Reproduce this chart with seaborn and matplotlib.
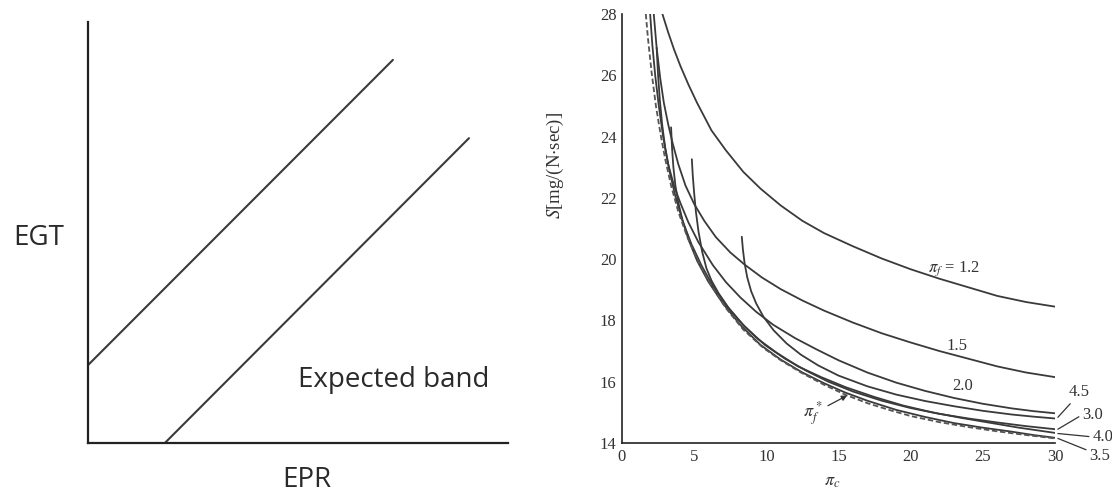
import matplotlib
matplotlib.use("Agg")
import matplotlib.pyplot as plt
import seaborn as sns

# ---------------- data ----------------
# left panel (schematic)
epr_upper = [0.0, 7.26]
egt_upper = [1.85, 9.1]
epr_lower = [1.83, 9.07]
egt_lower = [0.0, 7.24]

# right panel: S [mg/(N.sec)] vs pi_c for fan pressure ratios
pf12_x = [2.8, 3.2, 3.6, 4.05, 4.6, 5.2, 6.2, 7.2, 8.4, 9.6, 11.0, 12.5, 14.0, 16.0, 18.0, 20.0, 22.0, 24.0, 26.0, 28.0, 30.0]
pf12_y = [28.0, 27.4, 26.85, 26.3, 25.7, 25.1, 24.2, 23.55, 22.85, 22.3, 21.75, 21.25, 20.85, 20.42, 20.02, 19.67, 19.36, 19.08, 18.8, 18.6, 18.45]

pf15_x = [2.2, 2.4, 2.65, 2.9, 3.2, 3.5, 3.9, 4.4, 5.0, 5.7, 6.5, 7.5, 8.5, 9.7, 11.0, 12.5, 14.0, 16.0, 18.0, 20.0, 22.0, 24.0, 26.0, 28.0, 30.0]
pf15_y = [28.0, 26.9, 25.9, 25.1, 24.4, 23.8, 23.1, 22.4, 21.8, 21.25, 20.72, 20.22, 19.82, 19.4, 19.02, 18.65, 18.32, 17.93, 17.58, 17.28, 17.0, 16.75, 16.5, 16.3, 16.15]

pf20_x = [1.95, 2.1, 2.3, 2.55, 2.85, 3.2, 3.6, 4.03, 4.6, 5.3, 6.3, 7.2, 8.2, 9.3, 10.5, 12.0, 13.5, 15.0, 17.0, 19.0, 21.0, 23.0, 25.0, 27.0, 28.5, 30.0]
pf20_y = [28.0, 27.0, 26.0, 25.0, 24.0, 23.1, 22.4, 21.85, 21.2, 20.55, 19.8, 19.25, 18.75, 18.28, 17.85, 17.42, 17.05, 16.7, 16.3, 15.97, 15.7, 15.47, 15.28, 15.13, 15.04, 14.97]

pf30_x = [2.4, 2.5, 2.62, 2.78, 3.0, 3.3, 3.7, 4.2, 4.8, 5.5, 6.3, 7.3, 8.5, 9.9, 11.3, 12.8, 14.3, 16.0, 18.0, 20.0, 22.0, 24.0, 26.0, 28.0, 30.0]
pf30_y = [26.9, 26.0, 25.2, 24.4, 23.6, 22.85, 22.05, 21.25, 20.5, 19.8, 19.12, 18.45, 17.8, 17.2, 16.75, 16.35, 16.0, 15.68, 15.38, 15.14, 14.95, 14.8, 14.67, 14.55, 14.45]

pf35_x = [3.4, 3.47, 3.56, 3.7, 3.9, 4.2, 4.6, 5.2, 6.0, 7.0, 8.2, 9.6, 11.0, 12.5, 14.0, 15.5, 17.0, 19.0, 21.0, 23.0, 25.0, 27.0, 28.5, 30.0]
pf35_y = [24.3, 23.6, 23.0, 22.4, 21.85, 21.25, 20.65, 19.95, 19.25, 18.55, 17.85, 17.2, 16.72, 16.3, 15.95, 15.64, 15.38, 15.08, 14.85, 14.65, 14.5, 14.37, 14.26, 14.17]

pf40_x = [4.84, 4.9, 5.0, 5.12, 5.3, 5.55, 5.85, 6.2, 6.7, 7.4, 8.3, 9.4, 10.7, 12.2, 13.8, 15.5, 17.5, 19.5, 21.5, 23.5, 25.5, 27.5, 30.0]
pf40_y = [23.26, 22.75, 22.15, 21.55, 20.9, 20.25, 19.7, 19.3, 18.88, 18.4, 17.9, 17.4, 16.95, 16.5, 16.15, 15.82, 15.5, 15.22, 15.0, 14.82, 14.66, 14.5, 14.33]

pf45_x = [8.3, 8.38, 8.5, 8.68, 8.95, 9.3, 9.8, 10.5, 11.4, 12.4, 13.6, 15.0, 17.0, 19.0, 21.0, 23.0, 25.0, 27.0, 28.5, 30.0]
pf45_y = [20.73, 20.3, 19.85, 19.4, 18.95, 18.55, 18.12, 17.68, 17.25, 16.88, 16.53, 16.2, 15.85, 15.58, 15.37, 15.2, 15.05, 14.93, 14.86, 14.8]

pfopt_x = [1.65, 1.8, 2.05, 2.35, 2.7, 3.0, 3.4, 3.9, 4.5, 5.2, 6.1, 7.2, 8.4, 9.8, 11.0, 12.4, 14.0, 15.5, 17.0, 18.5, 20.0, 22.0, 24.0, 26.0, 28.0, 30.0]
pfopt_y = [28.0, 27.2, 26.1, 25.0, 24.0, 23.25, 22.4, 21.55, 20.75, 20.0, 19.2, 18.4, 17.7, 17.1, 16.7, 16.3, 15.9, 15.57, 15.3, 15.08, 14.88, 14.68, 14.52, 14.38, 14.26, 14.15]

x_ticks = [0, 5, 10, 15, 20, 25, 30]
y_ticks = [14, 16, 18, 20, 22, 24, 26, 28]

# ---------------- style ----------------
sns.set_style("white")
plt.rcParams["font.family"] = ["Liberation Serif", "DejaVu Serif"]
plt.rcParams["mathtext.fontset"] = "stix"

ink = "#3a3a3a"
fig = plt.figure(figsize=(11.12, 4.93), dpi=100)

# ---------------- left panel ----------------
axL = fig.add_axes([88 / 1112, 50 / 493, 420 / 1112, 421 / 493])
sns.lineplot(x=epr_upper, y=egt_upper, ax=axL, color=ink, lw=1.5)
sns.lineplot(x=epr_lower, y=egt_lower, ax=axL, color=ink, lw=1.5)
axL.set_xlim(0, 10)
axL.set_ylim(0, 10)
axL.set_xticks([])
axL.set_yticks([])
for s in ["top", "right"]:
    axL.spines[s].set_visible(False)
for s in ["left", "bottom"]:
    axL.spines[s].set_color("#222222")
    axL.spines[s].set_linewidth(1.6)
sans = ["Open Sans", "DejaVu Sans"]
axL.set_ylabel("EGT", rotation=0, fontsize=20, family=sans, color="#2a2a2a")
axL.yaxis.set_label_coords(-0.118, 0.487)
axL.yaxis.label.set_va("center")
axL.set_xlabel("EPR", fontsize=20, family=sans, color="#2a2a2a")
axL.xaxis.set_label_coords(0.521, -0.088)
axL.xaxis.label.set_va("center")
axL.text(5.0, 1.5, "Expected band", fontsize=20, family=sans, color="#2a2a2a",
         ha="left", va="center")

# ---------------- right panel ----------------
axR = fig.add_axes([622 / 1112, 50 / 493, 433 / 1112, 429 / 493])
curves = [
    (pf12_x, pf12_y), (pf15_x, pf15_y), (pf20_x, pf20_y), (pf30_x, pf30_y),
    (pf35_x, pf35_y), (pf40_x, pf40_y), (pf45_x, pf45_y),
]
for cx, cy in curves:
    sns.lineplot(x=cx, y=cy, ax=axR, color=ink, lw=1.3, sort=False, estimator=None)
sns.lineplot(x=pfopt_x, y=pfopt_y, ax=axR, color="#555555", lw=1.3, sort=False,
             estimator=None, linestyle=(0, (3, 1.5)))

axR.set_xlim(0, 30)
axR.set_ylim(14, 28)
axR.set_xticks(x_ticks)
axR.set_yticks(y_ticks)
axR.tick_params(direction="in", length=7, width=1.0, colors="#222222",
                labelsize=12, labelcolor="#333333", pad=4)
axR.tick_params(axis="x", pad=4)
for s in ["top", "right"]:
    axR.spines[s].set_visible(False)
for s in ["left", "bottom"]:
    axR.spines[s].set_color("#222222")
    axR.spines[s].set_linewidth(1.2)

axR.set_ylabel(r"$S$[mg/(N$\cdot$sec)]", fontsize=13.5, color="#333333")
axR.yaxis.set_label_coords(-0.13, 0.648)
axR.set_xlabel(r"$\pi_c$", fontsize=13, color="#333333")
axR.xaxis.set_label_coords(0.486, -0.07)

lab = dict(fontsize=12, color="#333333", ha="center", va="center")
axR.text(23.0, 19.7, r"$\pi_f$ = 1.2", **lab)
axR.text(23.2, 17.15, "1.5", **lab)
axR.text(23.6, 15.85, "2.0", **lab)

lead = dict(arrowstyle="-", color="#333333", lw=0.9, shrinkA=0, shrinkB=0)
axR.annotate("4.5", xy=(30.2, 14.84), xytext=(31.7, 15.65), fontsize=12,
             color="#333333", ha="center", va="center", annotation_clip=False,
             arrowprops=dict(lead, relpos=(0.2, 0.0)))
axR.annotate("3.0", xy=(30.2, 14.45), xytext=(32.6, 14.92), fontsize=12,
             color="#333333", ha="center", va="center", annotation_clip=False,
             arrowprops=dict(lead, relpos=(0.0, 0.5)))
axR.annotate("4.0", xy=(30.2, 14.31), xytext=(33.3, 14.2), fontsize=12,
             color="#333333", ha="center", va="center", annotation_clip=False,
             arrowprops=dict(lead, relpos=(0.0, 0.5)))
axR.annotate("3.5", xy=(30.2, 14.15), xytext=(33.1, 13.58), fontsize=12,
             color="#333333", ha="center", va="center", annotation_clip=False,
             arrowprops=dict(lead, relpos=(0.0, 0.8)))
axR.annotate(r"$\pi_f^*$", xy=(15.6, 15.55), xytext=(13.2, 14.95), fontsize=13,
             color="#333333", ha="center", va="center",
             arrowprops=dict(arrowstyle="-|>", color="#333333", lw=0.9,
                             mutation_scale=8, shrinkA=2, shrinkB=0))

fig.savefig("out.png", dpi=100)
